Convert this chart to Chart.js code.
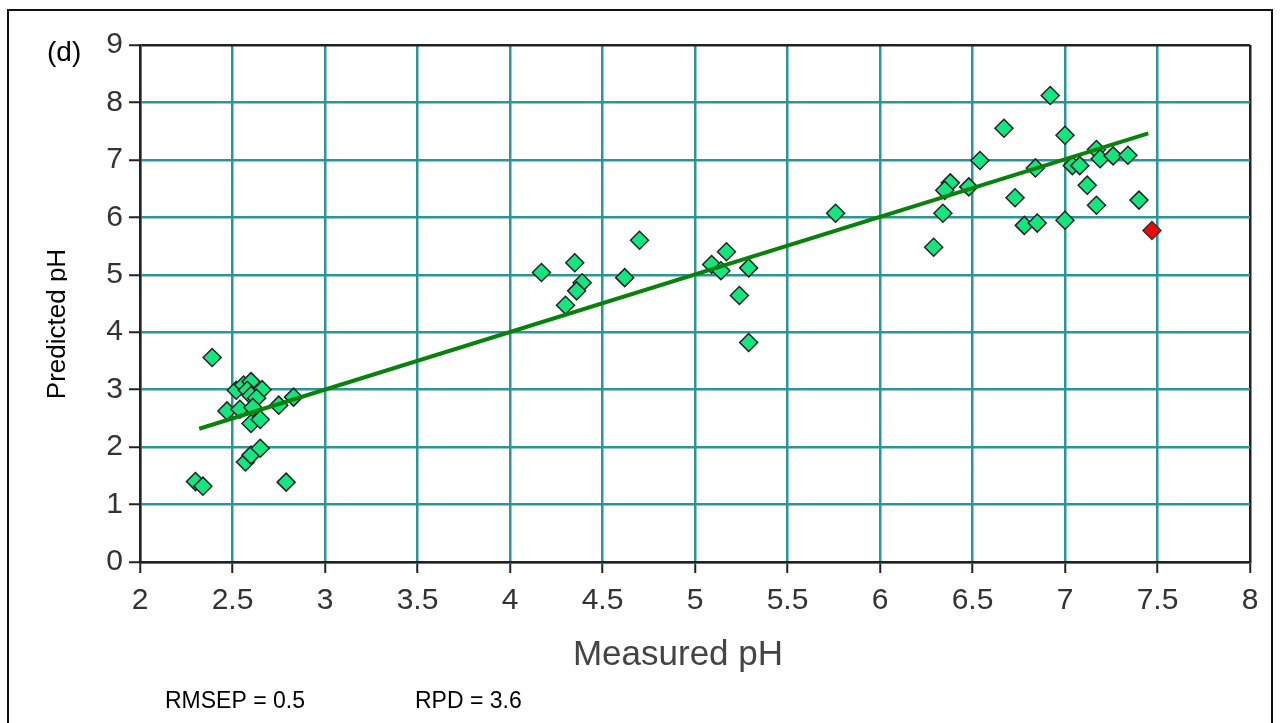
<!DOCTYPE html>
<html>
<head>
<meta charset="utf-8">
<title>Measured vs predicted pH</title>
<script src="https://cdn.jsdelivr.net/npm/chart.js@4/dist/chart.umd.min.js"></script>
<style>
  html, body { margin: 0; padding: 0; background: #fff; }
  #wrap { width: 1280px; height: 723px; }
</style>
</head>
<body>
<div id="wrap"><canvas id="ph-chart" width="1280" height="723"></canvas></div>
<script>
// validation samples
const measuredPh = [
    2.39, 2.52, 2.56, 2.60, 2.58, 2.66, 2.60, 2.63, 2.47, 2.54, 2.61,
    2.60, 2.65, 2.75, 2.83, 2.57, 2.60, 2.65, 2.30, 2.34, 2.79,
    4.17, 4.35, 4.39, 4.36, 4.30, 4.62, 4.70,
    5.09, 5.17, 5.14, 5.29, 5.24, 5.29, 5.76,
    6.92, 6.67, 6.54, 6.38, 6.35, 6.48, 6.34, 6.29, 6.73, 6.78, 6.85, 6.84,
    7.00, 7.04, 7.08, 7.17, 7.19, 7.26, 7.34, 7.12, 7.17, 7.40, 7.00
];
const predictedPh = [
    3.56, 2.99, 3.08, 3.14, 2.99, 3.00, 2.90, 2.85, 2.63, 2.66, 2.69,
    2.41, 2.48, 2.73, 2.87, 1.74, 1.86, 1.98, 1.40, 1.32, 1.39,
    5.04, 5.21, 4.86, 4.72, 4.47, 4.95, 5.60,
    5.18, 5.40, 5.07, 5.12, 4.64, 3.82, 6.07,
    8.12, 7.55, 6.99, 6.60, 6.47, 6.53, 6.07, 5.48, 6.34, 5.86, 5.90, 6.86,
    7.43, 6.90, 6.90, 7.18, 7.02, 7.07, 7.08, 6.56, 6.21, 6.30, 5.95
];

// flagged sample
const outlierMeasured = [7.47];
const outlierPredicted = [5.77];

// fitted line ends
const fitMeasured = [2.32, 7.45];
const fitPredicted = [2.32, 7.46];

const xTicks = [2, 2.5, 3, 3.5, 4, 4.5, 5, 5.5, 6, 6.5, 7, 7.5, 8];
const yTicks = [0, 1, 2, 3, 4, 5, 6, 7, 8, 9];

const statsText = ["RMSEP = 0.5", "RPD = 3.6"];

function toPoints(xs, ys) {
    let pts = [];
    for (let i = 0; i < xs.length; i++) {
        pts.push({x: xs[i], y: ys[i]});
    }
    return pts;
}

const gridTeal = "#2a9696";
const tickFont = {family: "'Liberation Sans Narrow', 'Liberation Sans', Arial, sans-serif", size: 30};

// frame, panel letter, stats and axis titles
const annotations = {
    id: "annotations",
    beforeDraw(chart) {
        let ctx = chart.ctx;
        ctx.save();
        ctx.fillStyle = "#fff";
        ctx.fillRect(0, 0, chart.width, chart.height);
        ctx.restore();
    },
    afterDraw(chart) {
        let ctx = chart.ctx;
        let area = chart.chartArea;
        ctx.save();
        ctx.strokeStyle = "#111";
        ctx.lineWidth = 2;
        ctx.strokeRect(8, 10, 1264, 730);

        ctx.fillStyle = "#000";
        ctx.font = "28px 'Liberation Sans', Arial, sans-serif";
        ctx.textBaseline = "alphabetic";
        ctx.textAlign = "left";
        ctx.fillText("(d)", 47, 61);
        ctx.font = "23px 'Liberation Sans', Arial, sans-serif";
        ctx.fillText(statsText[0], 165, 708);
        ctx.fillText(statsText[1], 415, 708);

        ctx.fillStyle = "#444";
        ctx.font = "35px 'Liberation Sans', Arial, sans-serif";
        ctx.textAlign = "center";
        ctx.fillText("Measured pH", 678, 665);

        // rotated y title, right edge cut off
        ctx.beginPath();
        ctx.rect(30, area.top, 37, area.bottom - area.top);
        ctx.clip();
        ctx.translate(65, 324);
        ctx.rotate(-Math.PI / 2);
        ctx.fillStyle = "#000";
        ctx.font = "26px 'Liberation Sans', Arial, sans-serif";
        ctx.textAlign = "center";
        ctx.fillText("Predicted pH", 0, 0);
        ctx.restore();
    }
};

const chart = new Chart(document.getElementById("ph-chart"), {
    type: "scatter",
    data: {
        datasets: [
            {
                type: "line",
                data: toPoints(fitMeasured, fitPredicted),
                borderColor: "#08820a",
                borderWidth: 4,
                pointRadius: 0,
                fill: false,
                order: 0
            },
            {
                data: toPoints(outlierMeasured, outlierPredicted),
                pointStyle: "rectRot",
                pointRadius: 9,
                backgroundColor: "#ee0a0a",
                borderColor: "#333",
                borderWidth: 1.5,
                order: 1
            },
            {
                data: toPoints(measuredPh, predictedPh),
                pointStyle: "rectRot",
                pointRadius: 9,
                backgroundColor: "#14e67f",
                borderColor: "#222",
                borderWidth: 1.5,
                order: 2
            }
        ]
    },
    options: {
        responsive: false,
        animation: false,
        layout: {padding: {left: 0, right: 30, top: 45, bottom: 0}},
        plugins: {
            legend: {display: false},
            tooltip: {enabled: false}
        },
        scales: {
            x: {
                type: "linear",
                min: 2,
                max: 8,
                afterFit: function(scale) { scale.height = 161; },
                afterBuildTicks: function(scale) {
                    scale.ticks = xTicks.map(v => ({value: v}));
                },
                ticks: {
                    color: "#333",
                    font: tickFont,
                    padding: 10,
                    maxRotation: 0,
                    autoSkip: false,
                    callback: v => String(v)
                },
                grid: {
                    color: ctx => (ctx.tick && ctx.tick.value === 8) ? "#222" : gridTeal,
                    lineWidth: 2.5,
                    tickColor: "#222",
                    tickLength: 11,
                    tickWidth: 2
                },
                border: {color: "#222", width: 2.5}
            },
            y: {
                type: "linear",
                min: 0,
                max: 9,
                afterFit: function(scale) { scale.width = 140; },
                afterBuildTicks: function(scale) {
                    scale.ticks = yTicks.map(v => ({value: v}));
                },
                ticks: {
                    color: "#333",
                    font: tickFont,
                    padding: 6,
                    autoSkip: false,
                    callback: v => String(v)
                },
                grid: {
                    color: ctx => (ctx.tick && ctx.tick.value === 9) ? "#222" : gridTeal,
                    lineWidth: 2.5,
                    tickColor: "#222",
                    tickLength: 11,
                    tickWidth: 2
                },
                border: {color: "#222", width: 2.5}
            }
        }
    },
    plugins: [annotations]
});
</script>
</body>
</html>
